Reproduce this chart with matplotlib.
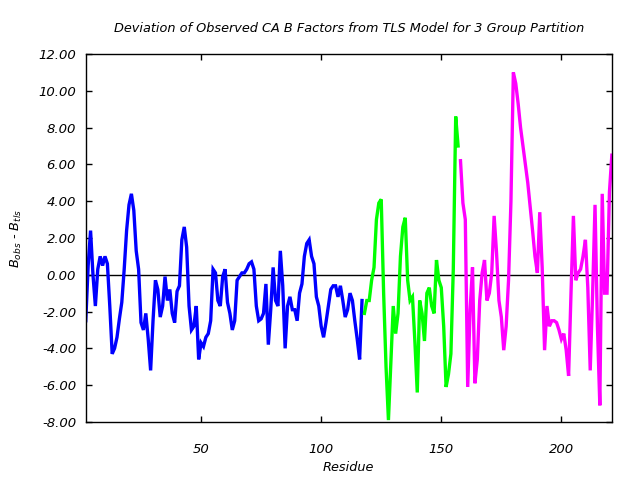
import matplotlib
matplotlib.use("Agg")
import matplotlib.pyplot as plt
import numpy as np

# residue ranges for the three TLS groups
group1_res = list(range(2, 118))
group1_dev = [
    -2.5, 0.5, 2.4, 0.0, -1.7, 0.3, 1.0, 0.5, 1.0, 0.6,
    -1.7, -4.3, -4.0, -3.4, -2.4, -1.5, 0.3, 2.4, 3.8, 4.4,
    3.5, 1.3, 0.3, -2.6, -3.0, -2.1, -3.5, -5.2, -2.5, -0.3,
    -0.8, -2.3, -1.7, -0.1, -1.4, -0.8, -2.1, -2.6, -0.9, -0.6,
    1.9, 2.6, 1.5, -1.7, -3.0, -2.8, -1.7, -4.6, -3.7, -3.9,
    -3.4, -3.2, -2.5, 0.3, 0.1, -1.4, -1.7, -0.1, 0.3, -1.5,
    -2.1, -3.0, -2.5, -0.3, -0.1, 0.1, 0.1, 0.3, 0.6, 0.7,
    0.3, -1.7, -2.5, -2.4, -2.1, -0.5, -3.8, -1.9, 0.4, -1.4,
    -1.7, 1.3, -0.6, -4.0, -1.7, -1.2, -1.9, -1.9, -2.5, -1.0,
    -0.5, 1.0, 1.7, 1.9, 1.0, 0.6, -1.2, -1.7, -2.8, -3.4,
    -2.6, -1.7, -0.8, -0.6, -0.6, -1.2, -0.6, -1.4, -2.3, -1.9,
    -1.0, -1.4, -2.5, -3.5, -4.6, -1.4,
]

group2_res = list(range(118, 158))
group2_dev = [
    -2.1, -1.4, -1.4, -0.3, 0.4, 3.0, 3.9, 4.1, -1.0, -5.0,
    -7.9, -4.8, -1.7, -3.2, -2.1, 1.0, 2.6, 3.1, -0.3, -1.4,
    -1.2, -3.6, -6.4, -1.4, -2.1, -3.6, -1.0, -0.7, -1.7, -2.1,
    0.8, -0.3, -0.7, -2.8, -6.1, -5.4, -4.3, 0.3, 8.6, 7.0,
]

group3_res = list(range(158, 222))
group3_dev = [
    6.2, 3.9, 3.0, -6.1, -1.9, 0.4, -5.9, -4.6, -1.4, 0.1,
    0.8, -1.4, -1.0, 0.1, 3.2, 1.2, -1.4, -2.3, -4.1, -2.8,
    -0.3, 4.0, 11.0, 10.4, 9.3, 8.0, 7.0, 6.0, 5.0, 3.7,
    2.4, 1.0, 0.1, 3.4, 0.4, -4.1, -1.7, -2.8, -2.5, -2.5,
    -2.6, -3.0, -3.5, -3.2, -4.1, -5.5, -1.0, 3.2, -0.3, 0.1,
    0.3, 1.0, 1.9, -0.7, -5.2, -1.0, 3.8, -2.8, -7.1, 4.4,
    -1.0, -1.0, 4.5, 6.5,
]

group_colors = ["#0000ff", "#00ff00", "#ff00ff"]
y_ticks = [-8, -6, -4, -2, 0, 2, 4, 6, 8, 10, 12]
x_ticks = [50, 100, 150, 200]

plt.rcParams["font.family"] = "DejaVu Sans"
plt.rcParams["mathtext.fontset"] = "dejavusans"
plt.rcParams["mathtext.default"] = "it"

fig = plt.figure(figsize=(6.4, 4.8), dpi=100)
ax = fig.add_axes([0.134, 0.121, 0.822, 0.7665])

ax.axhline(0, color="black", linewidth=1.0, zorder=1)
for res, dev, col in zip([group1_res, group2_res, group3_res],
                         [group1_dev, group2_dev, group3_dev], group_colors):
    ax.plot(res, dev, color=col, linewidth=2.4, solid_joinstyle="miter", zorder=2)

ax.set_xlim(2, 221)
ax.set_ylim(-8, 12)
ax.set_xticks(x_ticks)
ax.set_yticks(y_ticks)
ax.set_yticklabels([f"{v:.2f}" for v in y_ticks])
ax.tick_params(direction="in", length=4, width=1, top=True, right=True,
               labelsize=9.5)
ax.tick_params(axis="y", pad=7)
ax.tick_params(axis="x", pad=15)
for lab in ax.get_xticklabels() + ax.get_yticklabels():
    lab.set_fontstyle("italic")
for sp in ax.spines.values():
    sp.set_linewidth(1.0)

ax.set_title("Deviation of Observed CA B Factors from TLS Model for 3 Group Partition",
             fontsize=9.3, fontstyle="italic", pad=16)
ax.set_xlabel("Residue", fontsize=9.3, fontstyle="italic", labelpad=4)
ax.set_ylabel(r"$B_{obs}$ - $B_{tls}$", fontsize=9.3, fontstyle="italic", labelpad=10)

fig.savefig("out.png", dpi=100)
